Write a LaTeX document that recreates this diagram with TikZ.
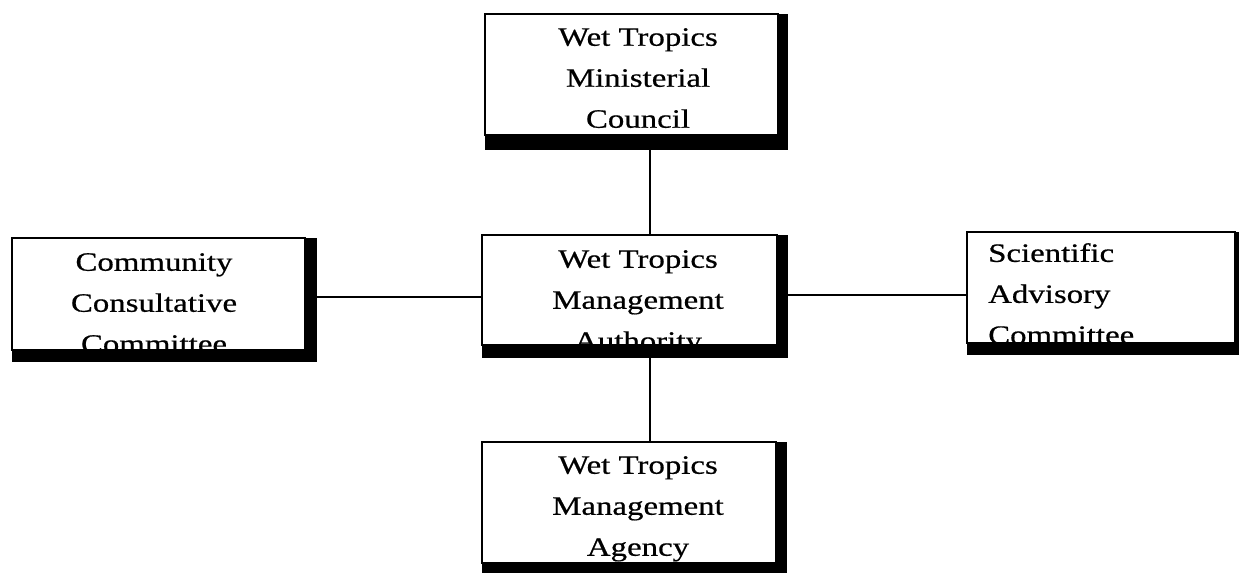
\documentclass[tikz,border=0pt]{standalone}
\usepackage{fontspec}
\setmainfont{Liberation Serif}[FakeStretch=1.24,FakeBold=0.6]
\begin{document}
\begin{tikzpicture}[x=1pt,y=-1pt,
  box/.style={draw=black, line width=2.2pt, fill=white, anchor=north west, inner sep=0pt, outer sep=0pt},
  lbl/.style={inner sep=0pt, anchor=north, align=center, font=\fontsize{26.5}{41}\selectfont},
  lbll/.style={lbl, anchor=north west, align=left},
  conn/.style={line width=2pt},
  shadowbar/.style={fill=black}]
\useasboundingbox[fill=white] (0,0) rectangle (1241,573);
% boxes
\node[box, minimum width=293pt, minimum height=121pt] (mc) at (485,14) {};
\node[box, minimum width=293pt, minimum height=112pt] (ccc) at (12,238) {};
\node[box, minimum width=295pt, minimum height=110pt] (auth) at (482,235) {};
\node[box, minimum width=268pt, minimum height=111pt] (sac) at (967,232) {};
\node[box, minimum width=294pt, minimum height=121pt] (agy) at (482,442) {};
% texts
\begin{scope}\clip (mc.north west) rectangle (mc.south east);
\node[lbl] (mct) at (638,28) {Wet Tropics\\Ministerial\\Council};
\end{scope}
\begin{scope}\clip (ccc.north west) rectangle (ccc.south east);
\node[lbl] (ccct) at (154,253) {Community\\Consultative\\Committee};
\end{scope}
\begin{scope}\clip (auth.north west) rectangle (auth.south east);
\node[lbl] (autht) at (638,250) {Wet Tropics\\Management\\Authority};
\end{scope}
\begin{scope}\clip (sac.north west) rectangle (sac.south east);
\node[lbll] (sact) at (988,243) {Scientific\\Advisory\\Committee};
\end{scope}
\begin{scope}\clip (agy.north west) rectangle (agy.south east);
\node[lbl] (agyt) at (638,456) {Wet Tropics\\Management\\Agency};
\end{scope}
% connectors
\coordinate (vx) at (650,0);
\coordinate (hl) at (0,297);
\coordinate (hr) at (0,295);
\draw[conn] (mc.south -| vx) -- (auth.north -| vx);
\draw[conn] (auth.south -| vx) -- (agy.north -| vx);
\draw[conn] (ccc.east |- hl) -- (auth.west |- hl);
\draw[conn] (auth.east |- hr) -- (sac.west |- hr);
% shadows
\fill[shadowbar] (mc.south west) rectangle ([shift={(10,15)}]mc.south east);
\fill[shadowbar] (mc.north east) rectangle ([shift={(10,15)}]mc.south east);
\fill[shadowbar] (ccc.south west) rectangle ([shift={(12,12)}]ccc.south east);
\fill[shadowbar] (ccc.north east) rectangle ([shift={(12,12)}]ccc.south east);
\fill[shadowbar] (auth.south west) rectangle ([shift={(11,13)}]auth.south east);
\fill[shadowbar] (auth.north east) rectangle ([shift={(11,13)}]auth.south east);
\fill[shadowbar] (sac.south west) rectangle ([shift={(4,12)}]sac.south east);
\fill[shadowbar] (sac.north east) rectangle ([shift={(4,12)}]sac.south east);
\fill[shadowbar] (agy.south west) rectangle ([shift={(11,10)}]agy.south east);
\fill[shadowbar] (agy.north east) rectangle ([shift={(11,10)}]agy.south east);
\end{tikzpicture}
\end{document}
